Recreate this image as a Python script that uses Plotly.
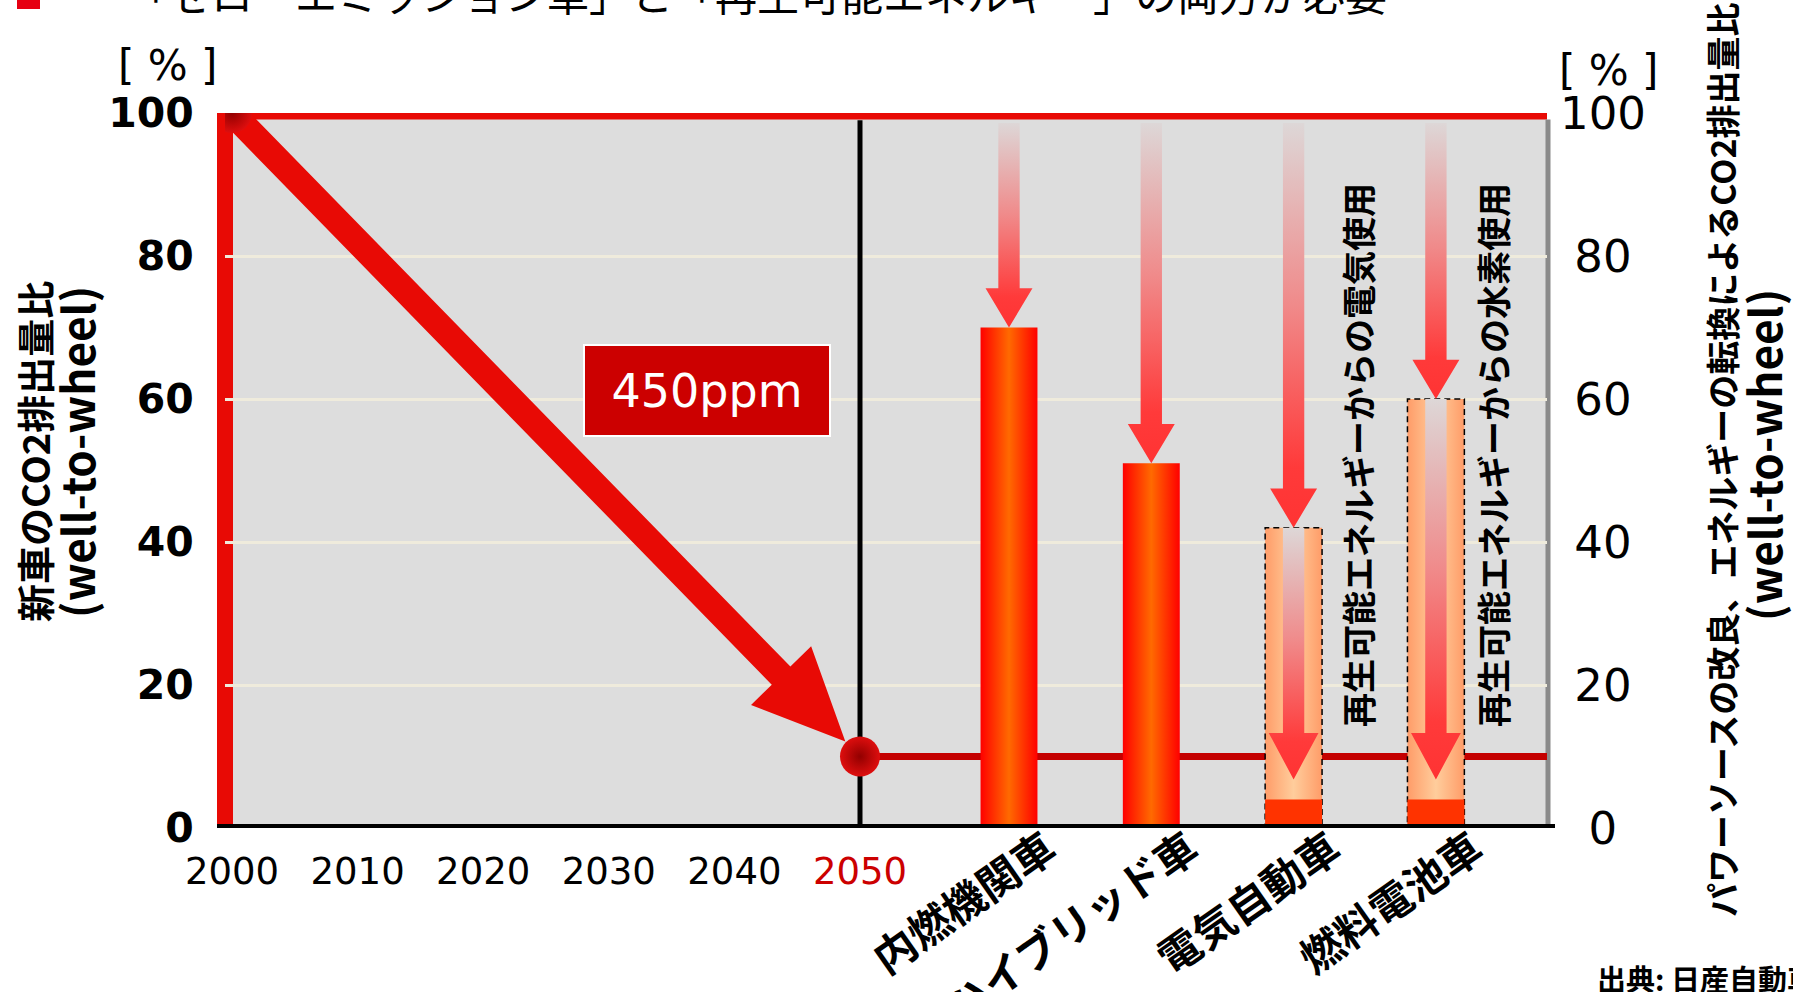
import numpy as np
import plotly.graph_objects as go

# ---------------- values ----------------
years = [2000, 2010, 2020, 2030, 2040, 2050]
path_years = [2000, 2050]
path_ratio = [100, 10]          # CO2 ratio of new cars, %
target_text = "450ppm"

vehicles = ["内燃機関車", "ハイブリッド車", "電気自動車", "燃料電池車"]
vehicle_ratio = [70, 51, 42, 60]         # by power source, %
renewable_ratio = [None, None, 4, 4]     # with renewable electricity / hydrogen, %
renewable_notes = ["再生可能エネルギーからの電気使用", "再生可能エネルギーからの水素使用"]

ratio_ticks = [0, 20, 40, 60, 80, 100]

title_text = "「ゼロ・エミッション車」と「再生可能エネルギー」の両方が必要"
left_title = ["新車のCO2排出量比", "(well-to-wheel)"]
right_title = ["パワーソースの改良、エネルギーの転換によるCO2排出量比", "(well-to-wheel)"]
source_text = "出典: 日産自動車"
unit_text = "[ % ]"

# ---------------- geometry (pixels) ----------------
W, H = 1793, 992
PLOT_L, PLOT_R = 225, 1547
PLOT_T, PLOT_B = 113, 828
YR0_PX, YR_STEP = 232, 12.56      # year 2000 position, px per year
CAT0_PX, CAT_STEP = 1009, 142.3   # first vehicle position, px per vehicle
Y_STEP = (PLOT_B - PLOT_T) / 100.0

RED = "#e80a05"
JP = "Noto Sans CJK JP"
LAT = "DejaVu Sans"


def fx(p):
    return p / W


def fy(p):
    return 1 - p / H


def year_px(x):
    return YR0_PX + (x - 2000) * YR_STEP


def ratio_py(y):
    return PLOT_B - y * Y_STEP


def px_year(p):
    return 2000 + (p - YR0_PX) / YR_STEP


def py_ratio(p):
    return (PLOT_B - p) / Y_STEP


x_range = [px_year(PLOT_L), px_year(PLOT_R)]
x2_range = [(PLOT_L - CAT0_PX) / CAT_STEP, (PLOT_R - CAT0_PX) / CAT_STEP]

fig = go.Figure()

# ---------------- diagonal reduction path ----------------
p0 = np.array([year_px(path_years[0]), ratio_py(path_ratio[0])])
p1 = np.array([year_px(path_years[1]), ratio_py(path_ratio[1])])
u = (p1 - p0) / np.linalg.norm(p1 - p0)
nrm = np.array([-u[1], u[0]])
tip = p1 - u * 21
base = tip - u * 92
shaft_hw, head_hw = 13, 42
poly = [p0 + nrm * shaft_hw, base + nrm * shaft_hw, base + nrm * head_hw, tip,
        base - nrm * head_hw, base - nrm * shaft_hw, p0 - nrm * shaft_hw, p0 + nrm * shaft_hw]
fig.add_trace(go.Scatter(
    x=[px_year(p[0]) for p in poly], y=[py_ratio(p[1]) for p in poly],
    mode="lines", fill="toself", fillcolor=RED, line=dict(width=0),
    hoverinfo="skip", showlegend=False))

fig.add_trace(go.Scatter(
    x=path_years, y=path_ratio, mode="markers",
    marker=dict(size=40, color="#de0e0e", line=dict(width=0),
                gradient=dict(type="radial", color="#920000")),
    showlegend=False, hoverinfo="skip"))

# ---------------- vehicle bars ----------------
BAR_HW = 0.2
solid_scale = [[0, "#ff0000"], [0.5, "#ff6a00"], [1, "#ff0000"]]
light_scale = [[0, "#ff9c68"], [0.5, "#ffcd9c"], [1, "#ff9c68"]]
arrow_scale = [[0, "#ff3333"], [0.15, "#ff3a3a"], [0.55, "#f08a8a"], [1, "#ddd7d7"]]


def down_arrow(xc, y_top, y_tip, s_hw=0.075, h_hw=0.165, h_len=5.5):
    yb = y_tip + h_len
    xs = [xc - s_hw, xc + s_hw, xc + s_hw, xc + h_hw, xc, xc - h_hw, xc - s_hw, xc - s_hw]
    ys = [y_top, y_top, yb, yb, y_tip, yb, yb, y_top]
    return xs, ys


for i, (name, val, ren) in enumerate(zip(vehicles, vehicle_ratio, renewable_ratio)):
    bx = [i - BAR_HW, i + BAR_HW, i + BAR_HW, i - BAR_HW, i - BAR_HW]
    by = [0, 0, val, val, 0]
    if ren is None:
        fig.add_trace(go.Scatter(
            x=bx, y=by, xaxis="x2", yaxis="y", mode="lines", fill="toself",
            fillgradient=dict(type="horizontal", colorscale=solid_scale),
            line=dict(width=0), name=name, showlegend=False))
    else:
        fig.add_trace(go.Scatter(
            x=bx, y=by, xaxis="x2", yaxis="y", mode="lines", fill="toself",
            fillgradient=dict(type="horizontal", colorscale=light_scale),
            line=dict(width=1.5, color="black", dash="6px,4px"),
            name=name, showlegend=False))
        fig.add_trace(go.Scatter(
            x=[i - BAR_HW, i + BAR_HW, i + BAR_HW, i - BAR_HW, i - BAR_HW],
            y=[0, 0, ren, ren, 0], xaxis="x2", yaxis="y", mode="lines",
            fill="toself", fillcolor="#ff3300", line=dict(width=0),
            showlegend=False))
        ax, ay = down_arrow(i, val, ren + 2.8, h_hw=0.175, h_len=6.5)
        fig.add_trace(go.Scatter(
            x=ax, y=ay, xaxis="x2", yaxis="y", mode="lines", fill="toself",
            fillgradient=dict(type="vertical", colorscale=arrow_scale),
            line=dict(width=0), showlegend=False, hoverinfo="skip"))
    ax, ay = down_arrow(i, 98.6, val)
    fig.add_trace(go.Scatter(
        x=ax, y=ay, xaxis="x2", yaxis="y", mode="lines", fill="toself",
        fillgradient=dict(type="vertical", colorscale=arrow_scale),
        line=dict(width=0), showlegend=False, hoverinfo="skip"))

# keeps the right-hand axis in the figure
fig.add_trace(go.Scatter(x=[None], y=[None], yaxis="y2", showlegend=False))

# ---------------- frame lines ----------------
shapes = [
    dict(type="line", xref="paper", yref="y", x0=fx(PLOT_L - 8), x1=fx(PLOT_R), y0=100, y1=100,
         line=dict(color=RED, width=13), layer="between"),
    dict(type="line", xref="paper", yref="y", x0=fx(PLOT_L), x1=fx(PLOT_L), y0=0, y1=100.9,
         line=dict(color=RED, width=16), layer="between"),
    dict(type="line", xref="paper", yref="y", x0=fx(PLOT_R + 1), x1=fx(PLOT_R + 1), y0=0, y1=99.1,
         line=dict(color="#8a8a8a", width=5), layer="between"),
    dict(type="line", xref="x", yref="y", x0=path_years[1], x1=path_years[1], y0=0, y1=99,
         line=dict(color="black", width=5), layer="between"),
    dict(type="line", xref="paper", yref="y", x0=fx(year_px(path_years[1])), x1=fx(PLOT_R),
         y0=path_ratio[1], y1=path_ratio[1], line=dict(color="#c40000", width=7), layer="between"),
    dict(type="line", xref="paper", yref="y", x0=fx(PLOT_L - 8), x1=fx(PLOT_R + 8), y0=0, y1=0,
         line=dict(color="black", width=8), layer="above"),
    dict(type="rect", xref="paper", yref="paper", x0=fx(17), x1=fx(40), y0=fy(9), y1=fy(-14),
         fillcolor="#e60012", line=dict(width=0)),
]


# ---------------- text ----------------
def label(text, x, y, size, family=JP, bold=False, angle=0, color="black", **kw):
    d = dict(text=text, xref="paper", yref="paper", x=fx(x), y=fy(y),
             xanchor=kw.pop("xanchor", "center"), yanchor=kw.pop("yanchor", "middle"),
             showarrow=False, textangle=angle,
             font=dict(family=family, size=size, color=color,
                       weight="bold" if bold else "normal"))
    d.update(kw)
    return d


annotations = [
    label(title_text, 125, -7, 42, xanchor="left"),
    label(target_text, 707, 390.5, 46, family=LAT, color="white",
          bgcolor="#cc0000", bordercolor="white", borderwidth=2, borderpad=0,
          width=244, height=89, align="center", valign="middle"),
    label(unit_text, 167, 65, 42, family=LAT),
    label(unit_text, 1608, 70, 42, family=LAT),
    label(left_title[0], 34, 452, 38, bold=True, angle=-90),
    label(left_title[1], 76, 452, 44, bold=True, angle=-90),
    label(right_title[0], 1722, 460, 34, bold=True, angle=-90),
    label(right_title[1], 1763, 455, 44, bold=True, angle=-90),
    label(renewable_notes[0], 1357, 455, 34, bold=True, angle=-90),
    label(renewable_notes[1], 1492, 455, 34, bold=True, angle=-90),
    label(source_text, 1595, 978, 29, bold=True, xanchor="left"),
]

year_text = [str(y) if y != path_years[1] else f"<span style='color:#cc0000'>{y}</span>"
             for y in years]
right_text = ["\u2008" * (3 - len(str(v))) + str(v) for v in ratio_ticks]

fig.update_layout(
    width=W, height=H,
    margin=dict(l=0, r=0, t=0, b=0, autoexpand=False),
    paper_bgcolor="white", plot_bgcolor="#dddddd",
    showlegend=False,
    shapes=shapes, annotations=annotations,
    xaxis=dict(domain=[fx(PLOT_L), fx(PLOT_R)], range=x_range, anchor="y",
               tickvals=years, ticktext=year_text, ticks="outside", ticklen=11,
               tickcolor="rgba(0,0,0,0)", tickfont=dict(family=LAT, size=37, color="black"),
               showgrid=False, zeroline=False, showline=False, fixedrange=True,
               automargin=False),
    xaxis2=dict(overlaying="x", anchor="y", side="bottom", range=x2_range,
                tickvals=list(range(len(vehicles))), ticktext=vehicles, tickangle=-35,
                ticks="", ticklabelshift=38, ticklabelstandoff=-12,
                tickfont=dict(family=JP, size=42, color="black", weight="bold"),
                showgrid=False, zeroline=False, showline=False, fixedrange=True,
                automargin=False),
    yaxis=dict(domain=[fy(PLOT_B), fy(PLOT_T)], range=[0, 100], anchor="x",
               tickvals=ratio_ticks, ticktext=[str(v) for v in ratio_ticks],
               ticks="outside", ticklen=22, tickcolor="rgba(0,0,0,0)",
               tickfont=dict(family=LAT, size=41, color="black", weight="bold"),
               showgrid=True, gridcolor="#efebdc", gridwidth=3,
               zeroline=False, showline=False, fixedrange=True, automargin=False),
    yaxis2=dict(overlaying="y", side="right", anchor="x", range=[0, 100],
                tickvals=ratio_ticks, ticktext=right_text,
                ticks="outside", ticklen=3, tickcolor="rgba(0,0,0,0)",
                tickfont=dict(family=LAT, size=45, color="black"),
                showgrid=False, zeroline=False, showline=False, fixedrange=True,
                automargin=False),
)

fig.write_html("out.html")
